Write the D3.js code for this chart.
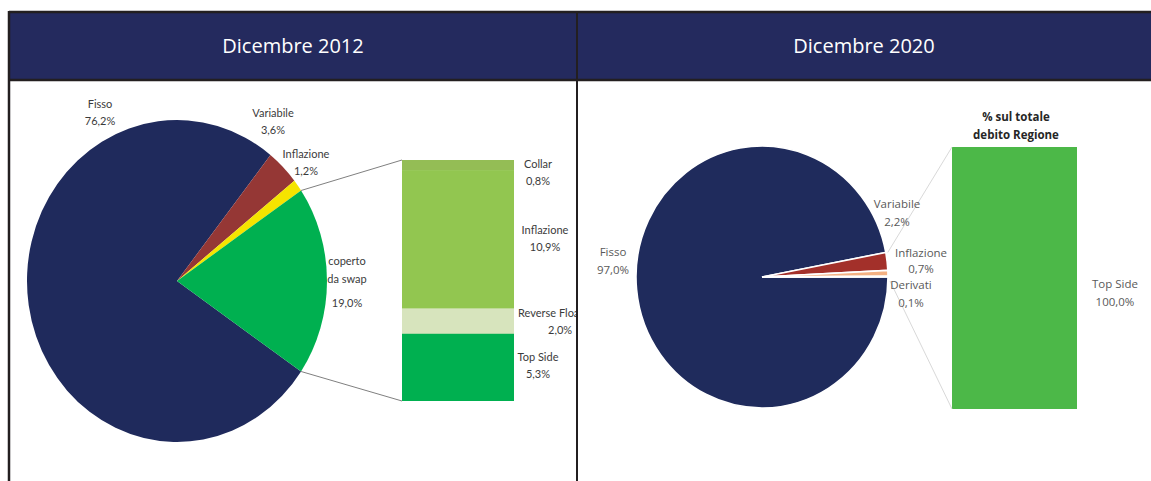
<!DOCTYPE html>
<html>
<head>
<meta charset="utf-8">
<script src="https://cdn.jsdelivr.net/npm/d3@7"></script>
<style>
  html, body { margin: 0; padding: 0; background: #fff; }
  svg { display: block; }
</style>
</head>
<body>
<svg id="chart"></svg>
<script>
// dati
const titles = ['Dicembre 2012', 'Dicembre 2020'];

const pie2012Labels = ['Fisso', 'Variabile', 'Inflazione', 'coperto da swap'];
const pie2012Values = [76.2, 3.6, 1.2, 19.0];
const bar2012Labels = ['Collar', 'Inflazione', 'Reverse Floater', 'Top Side'];
const bar2012Values = [0.8, 10.9, 2.0, 5.3];

const pie2020Labels = ['Fisso', 'Variabile', 'Inflazione', 'Derivati'];
const pie2020Values = [97.0, 2.2, 0.7, 0.1];
const bar2020Labels = ['Top Side'];
const bar2020Values = [100.0];
const bar2020Title = ['% sul totale', 'debito Regione'];

const fmt = (v) => v.toFixed(1).replace('.', ',') + '%';

const W = 1151;
const H = 481;
const svg = d3.select('#chart').attr('width', W).attr('height', H);

const border = '#231f20';
const headerFill = '#242a5e';

// intestazione
svg.append('rect')
  .attr('x', 9).attr('y', 13)
  .attr('width', W - 9).attr('height', 67)
  .attr('fill', headerFill);

const headerCenters = [293, 864];
svg.selectAll('text.title')
  .data(titles)
  .enter().append('text')
  .attr('class', 'title')
  .attr('x', (d, i) => headerCenters[i])
  .attr('y', 53)
  .attr('text-anchor', 'middle')
  .attr('font-family', 'Open Sans, sans-serif')
  .attr('font-size', 20)
  .attr('fill', '#fff')
  .text((d) => d);

// pannello sinistro, ritagliato al bordo centrale
svg.append('clipPath').attr('id', 'clipLeft')
  .append('rect').attr('x', 10).attr('y', 81).attr('width', 566).attr('height', 400);

const left = svg.append('g').attr('clip-path', 'url(#clipLeft)');
const right = svg.append('g');

function ellipsePoint(c, a) {
  return [c.x + c.rx * Math.sin(a), c.y - c.ry * Math.cos(a)];
}

function drawPie(g, c, values, colors, a0, stroke) {
  const pie = d3.pie().sort(null).startAngle(a0).endAngle(a0 + 2 * Math.PI);
  const arcs = pie(values);
  const arc = d3.arc().innerRadius(0).outerRadius(c.ry);
  g.append('g')
    .attr('transform', `translate(${c.x},${c.y}) scale(${c.rx / c.ry},1)`)
    .selectAll('path')
    .data(arcs)
    .enter().append('path')
    .attr('d', arc)
    .attr('fill', (d, i) => colors[i])
    .attr('stroke', stroke || 'none')
    .attr('stroke-width', stroke ? 1.6 : 0)
    .attr('vector-effect', 'non-scaling-stroke');
  return arcs;
}

function drawStack(g, b, labels, values, colors) {
  const total = d3.sum(values);
  const y = d3.scaleLinear().domain([0, total]).range([b.y0, b.y1]);
  let acc = 0;
  const segs = values.map((v, i) => {
    const s = { label: labels[i], value: v, start: acc, end: acc + v };
    acc += v;
    return s;
  });
  g.selectAll(null)
    .data(segs)
    .enter().append('rect')
    .attr('x', b.x0)
    .attr('width', b.x1 - b.x0)
    .attr('y', (d) => y(d.start))
    // piccola sovrapposizione per evitare la riga chiara tra i segmenti
    .attr('height', (d, i) => y(d.end) - y(d.start) + (i < segs.length - 1 ? 0.5 : 0))
    .attr('fill', (d, i) => colors[i]);
  return { y, segs };
}

function addLabels(g, items, font, size, color, lh) {
  items.forEach((it) => {
    const t = g.append('text')
      .attr('x', it.x).attr('y', it.y)
      .attr('text-anchor', it.anchor || 'middle')
      .attr('font-family', font)
      .attr('font-size', size)
      .attr('font-weight', it.bold ? 'bold' : 'normal')
      .attr('fill', color);
    it.lines.forEach((line, k) => {
      t.append('tspan')
        .attr('x', it.x + (it.dx && it.dx[k] ? it.dx[k] : 0))
        .attr('dy', k === 0 ? 0 : (it.gaps ? it.gaps[k - 1] : lh))
        .text(line);
    });
  });
}

// ---- 2012 ----
const c12 = { x: 177, y: 281, rx: 150, ry: 161 };
const col12 = ['#1f2a5c', '#953735', '#f5e400', '#00b050'];
const swapShare = pie2012Values[3] / d3.sum(pie2012Values);
const arcs12 = drawPie(left, c12, pie2012Values, col12, Math.PI / 2 + swapShare * Math.PI);

const b12 = { x0: 402, x1: 514, y0: 160, y1: 401 };
const barCol12 = ['#94bd55', '#92c650', '#d7e4bd', '#00b050'];
drawStack(left, b12, bar2012Labels, bar2012Values, barCol12);

// linee di collegamento
const sw = arcs12[3];
const pTop = ellipsePoint(c12, sw.startAngle);
const pBot = ellipsePoint(c12, sw.endAngle);
left.append('line')
  .attr('x1', pTop[0]).attr('y1', pTop[1])
  .attr('x2', b12.x0).attr('y2', b12.y0)
  .attr('stroke', '#808080').attr('stroke-width', 1);
left.append('line')
  .attr('x1', pBot[0]).attr('y1', pBot[1])
  .attr('x2', b12.x0).attr('y2', b12.y1)
  .attr('stroke', '#808080').attr('stroke-width', 1);

const font12 = 'Lato, sans-serif';
addLabels(left, [
  { x: 100, y: 108, lines: [pie2012Labels[0], fmt(pie2012Values[0])] },
  { x: 273, y: 117, lines: [pie2012Labels[1], fmt(pie2012Values[1])] },
  { x: 306, y: 158, lines: [pie2012Labels[2], fmt(pie2012Values[2])] },
  { x: 347, y: 265, lines: ['coperto', 'da swap', fmt(pie2012Values[3])], gaps: [18, 24] },
  { x: 538, y: 168, lines: [bar2012Labels[0], fmt(bar2012Values[0])] },
  { x: 545, y: 234, lines: [bar2012Labels[1], fmt(bar2012Values[1])] },
  { x: 518, y: 317, anchor: 'start', lines: [bar2012Labels[2], fmt(bar2012Values[2])], dx: [0, 30] },
  { x: 538, y: 361, lines: [bar2012Labels[3], fmt(bar2012Values[3])] },
], font12, 11, '#3b3b3b', 17);

// ---- 2020 ----
const c20 = { x: 762, y: 277, rx: 126, ry: 131 };
const col20 = ['#1f2b5c', '#a3302a', '#f4b183', '#f8cbad'];
const arcs20 = drawPie(right, c20, pie2020Values, col20, Math.PI / 2, '#fff');

const b20 = { x0: 952, x1: 1077, y0: 147, y1: 409 };
drawStack(right, b20, bar2020Labels, bar2020Values, ['#4cb848']);

const q1 = ellipsePoint(c20, arcs20[1].startAngle);
const q2 = ellipsePoint(c20, arcs20[3].endAngle);
right.append('line')
  .attr('x1', q1[0] + 2).attr('y1', q1[1])
  .attr('x2', b20.x0).attr('y2', b20.y0)
  .attr('stroke', '#d9d9d9').attr('stroke-width', 1);
right.append('line')
  .attr('x1', q2[0] + 2).attr('y1', q2[1] + 4)
  .attr('x2', b20.x0).attr('y2', b20.y1)
  .attr('stroke', '#d9d9d9').attr('stroke-width', 1);

const font20 = 'Open Sans, sans-serif';
addLabels(right, [
  { x: 613, y: 256, lines: [pie2020Labels[0], fmt(pie2020Values[0])] },
  { x: 897, y: 208, lines: [pie2020Labels[1], fmt(pie2020Values[1])] },
  { x: 921, y: 257, lines: [pie2020Labels[2], fmt(pie2020Values[2])], gaps: [16] },
  { x: 911, y: 289, lines: [pie2020Labels[3], fmt(pie2020Values[3])] },
  { x: 1115, y: 288, lines: [bar2020Labels[0], fmt(bar2020Values[0])] },
], font20, 11.5, '#595959', 18);

addLabels(right, [
  { x: 1016, y: 121, bold: true, lines: bar2020Title },
], font20, 11.5, '#262626', 18);

// bordi tabella
svg.append('line').attr('x1', 9).attr('y1', 12).attr('x2', W).attr('y2', 12)
  .attr('stroke', border).attr('stroke-width', 2.5);
svg.append('line').attr('x1', 9).attr('y1', 80).attr('x2', W).attr('y2', 80)
  .attr('stroke', border).attr('stroke-width', 2.5);
svg.append('line').attr('x1', 9).attr('y1', 11).attr('x2', 9).attr('y2', H)
  .attr('stroke', border).attr('stroke-width', 2.5);
svg.append('line').attr('x1', 577).attr('y1', 11).attr('x2', 577).attr('y2', H)
  .attr('stroke', border).attr('stroke-width', 2);
</script>
</body>
</html>
